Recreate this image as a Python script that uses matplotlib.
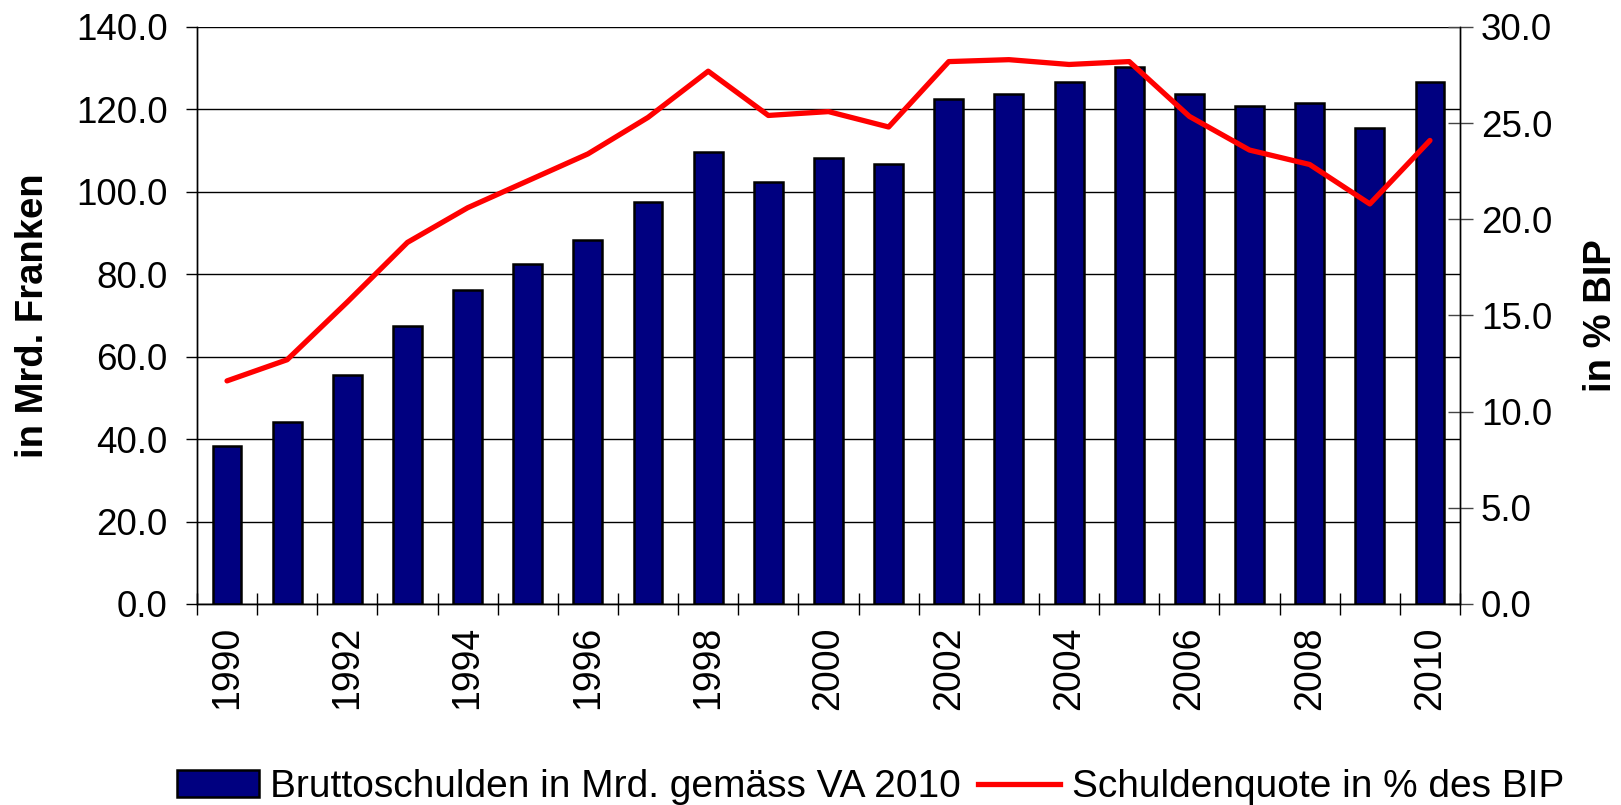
import matplotlib
matplotlib.use("Agg")
import matplotlib.pyplot as plt
import numpy as np
from matplotlib.patches import Patch
from matplotlib.lines import Line2D

plt.rcParams['font.family'] = ['Liberation Sans', 'DejaVu Sans']

years = list(range(1990, 2011))
debt = [38.4, 44.1, 55.5, 67.5, 76.2, 82.5, 88.3, 97.5, 109.6, 102.5, 108.2,
        106.8, 122.5, 123.8, 126.7, 130.3, 123.8, 120.9, 121.6, 115.4, 126.7]
ratio = [11.6, 12.7, 15.7, 18.8, 20.6, 22.0, 23.4, 25.3, 27.7, 25.4, 25.6,
         24.8, 28.2, 28.3, 28.05, 28.2, 25.35, 23.6, 22.85, 20.8, 24.1]
left_ticks = [0, 20, 40, 60, 80, 100, 120, 140]
right_ticks = [0, 5, 10, 15, 20, 25, 30]

fig = plt.figure(figsize=(16.21, 8.05), dpi=100)
ax = fig.add_axes([0.1215, 0.2497, 0.7792, 0.7168])
ax2 = ax.twinx()

x = np.arange(len(years))
ax.bar(x, debt, width=0.48, color='#000080', edgecolor='black', linewidth=1.8, zorder=3)
ax2.plot(x, ratio, color='#FF0000', linewidth=3.8, solid_capstyle='round', zorder=4)

ax.set_xlim(-0.5, len(years) - 0.5)
ax.set_ylim(0, 140)
ax2.set_ylim(0, 30)

ax.set_yticks(left_ticks)
ax.set_yticklabels([f"{v:.1f}" for v in left_ticks], fontsize=26.5)
ax.yaxis.grid(True, color='black', linewidth=1.0, zorder=0)
ax.set_axisbelow(True)
ax.tick_params(axis='y', direction='out', length=8, width=1, pad=13)

ax2.set_yticks(right_ticks)
ax2.set_yticklabels([f"{v:.1f}" for v in right_ticks], fontsize=26.5)
ax2.tick_params(axis='y', direction='inout', length=18, width=1, pad=6, color='#444444')

# x ticks: marks at category boundaries, labels every 2 years
ax.set_xticks(np.arange(-0.5, len(years), 1.0), minor=True)
ax.set_xticks(x[::2])
ax.set_xticklabels([str(y) for y in years[::2]], rotation=90, fontsize=27)
ax.tick_params(axis='x', which='major', length=0, pad=16)
ax.tick_params(axis='x', which='minor', direction='inout', length=16, width=1)

for a in (ax, ax2):
    a.spines['top'].set_visible(False)
    for s in ('left', 'right', 'bottom'):
        a.spines[s].set_linewidth(1.0)

ax.set_ylabel("in Mrd. Franken", fontsize=27.5, fontweight='bold', labelpad=18)
ax2.set_ylabel("in % BIP", fontsize=27.5, fontweight='bold', labelpad=22)

handles = [Patch(facecolor='#000080', edgecolor='black', linewidth=1.8),
           Line2D([0], [0], color='#FF0000', linewidth=3.8)]
labels = ["Bruttoschulden in Mrd. gemäss VA 2010", "Schuldenquote in % des BIP"]
fig.legend(handles, labels, loc='center', bbox_to_anchor=(0.537, 0.022), ncol=2,
           frameon=False, fontsize=28, handlelength=2.1, handletextpad=0.3,
           columnspacing=0.45, borderaxespad=0)

fig.savefig("out.png", dpi=100)
